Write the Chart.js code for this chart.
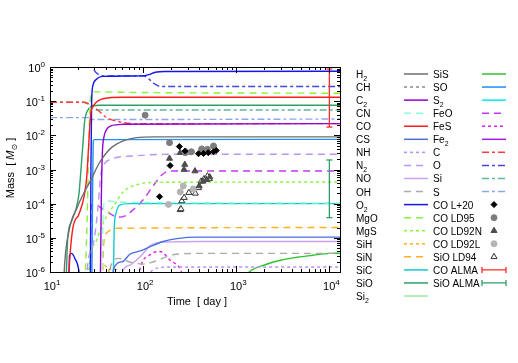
<!DOCTYPE html>
<html>
<head>
<meta charset="utf-8">
<script src="https://cdn.jsdelivr.net/npm/chart.js@4.4.1/dist/chart.umd.min.js"></script>
<style>
    html, body { margin: 0; padding: 0; background: #fff; }
    #wrap { width: 518px; height: 363px; }
</style>
</head>
<body>
<div id="wrap"><canvas id="massChart" width="518" height="363"></canvas></div>
<script>
// Molecule / atom masses [Msun] vs time [day], pairs of [t, M]
const H2 = [[13.8, 1e-7], [14.2, 1e-6], [16, 1.6e-5], [19.7, 8e-5], [23, 2e-4], [27.4, 4.9e-4], [33.6, 1.5e-3], [40, 3e-3], [46.7, 4.6e-3], [62, 7e-3], [85, 8.6e-3], [130, 9e-3], [13000, 9e-3]];
const CH = [[40, 1e-7], [42, 8e-7], [46, 1.3e-6], [55, 1e-6], [65, 6e-7], [75, 1e-7]];
const C2 = [[34.5, 1e-7], [35.5, 1e-4], [36.5, 3e-3], [38, 9e-3], [40, 0.014], [45, 0.019], [60, 0.021], [13000, 0.022]];
const CN = [[36, 1e-7], [37, 3e-5], [38, 1e-4], [40, 1.2e-4], [60, 1.1e-4], [13000, 1.05e-4]];
const CO = [[15.5, 1e-7], [16, 1e-6], [17.4, 1.6e-5], [20.5, 5e-5], [23.2, 1.6e-4], [24.8, 6e-4], [26, 5e-3], [27.4, 0.044], [29.7, 0.078], [38, 0.12], [60, 0.13], [13000, 0.13]];
const CS = [[46, 1e-7], [48, 1.2e-6], [60, 2e-6], [72, 3.3e-6], [95, 4.2e-6], [119, 5.5e-6], [164, 7.8e-6], [230, 9.5e-6], [400, 1.05e-5], [13000, 1.05e-5]];
const NH = [[90, 1e-7], [110, 6e-7], [130, 1.2e-6], [200, 1.4e-6], [13000, 1.4e-6]];
const N2 = [[24, 1e-7], [25, 1e-6], [30, 1e-5], [33, 1e-4], [35, 7e-4], [38, 1.4e-3], [45, 2e-3], [80, 2.5e-3], [200, 2.8e-3], [13000, 2.8e-3]];
const NO = [[55, 1e-7], [60, 1e-6], [72, 1.6e-6], [93, 2.8e-6], [120, 6e-6], [170, 7.5e-6], [400, 7.8e-6], [13000, 7.8e-6]];
const OH = [[40, 1e-7], [45, 1.5e-6], [55, 2.5e-6], [70, 2e-6], [100, 1.7e-6], [130, 2e-6], [210, 3.2e-6], [400, 3.5e-6], [13000, 3.5e-6]];
const O2 = [[15.8, 1e-7], [16.2, 3e-6], [17, 3.5e-6], [18.5, 2.5e-6], [20.5, 1e-6], [22, 1e-7], [27, 1e-7], [27.5, 1e-3], [28, 0.1], [29, 0.3], [32, 0.45], [37, 0.53], [100, 0.55], [115, 0.6], [135, 0.7], [170, 0.74], [13000, 0.75]];
const MgO = [[23, 1e-7], [24, 1e-6], [25, 3e-5], [26, 3e-3], [27, 0.1], [29, 0.19], [40, 0.185], [13000, 0.17]];
const MgS = [[25, 1e-7], [26, 1e-6], [31.7, 8.7e-6], [40, 4e-5], [50, 1e-4], [61, 2.2e-4], [93, 3.8e-4], [140, 4.2e-4], [13000, 4.3e-4]];
const SiH = [[34, 1e-7], [36, 8e-7], [38, 1.6e-6], [45, 8e-7], [60, 1e-7]];
const SiN = [[36, 1e-7], [37, 2e-6], [38, 8e-6], [42, 1.5e-5], [50, 1.9e-5], [13000, 2e-5]];
const SiC = [[47, 1e-7], [48, 1e-6], [49, 2e-5], [51, 5e-5], [56, 9e-5], [70, 1e-4], [13000, 1e-4]];
const SiO = [[14.5, 1e-7], [15, 1e-6], [15.5, 1e-5], [17, 3e-5], [19, 7e-5], [20.5, 2e-4], [21.5, 1e-3], [22.5, 5e-3], [23.5, 0.025], [25, 0.05], [28, 0.07], [35, 0.076], [13000, 0.076]];
const Si2 = [[10, 1e-8], [13000, 1e-8]];
const SiS = [[1250, 8e-7], [1476, 1.15e-6], [2000, 1.6e-6], [2970, 2.2e-6], [4500, 2.7e-6], [6700, 3.1e-6], [10000, 3.5e-6], [13000, 3.55e-6]];
const SO = [[28, 1e-7], [28.6, 1e-4], [29.2, 7e-3], [30, 7.5e-3], [13000, 7.6e-3]];
const S2 = [[10, 1e-8], [13000, 1e-8]];
const FeO = [[27, 1e-7], [27.6, 9e-5], [30, 9e-5], [33, 8.5e-5], [40, 6e-5], [55, 4e-5], [65, 4.5e-5], [80, 7e-5], [100, 1.3e-4], [130, 3.5e-4], [160, 7e-4], [190, 9e-4], [13000, 9e-4]];
const FeS = [[80, 1e-7], [93, 1.3e-6], [119, 3.2e-6], [152, 4e-6], [195, 2.2e-6], [259, 1e-6], [320, 1e-7]];
const Fe2 = [[10, 1e-8], [13000, 1e-8]];
const C = [[10, 0.093], [22.8, 0.093], [26, 0.085], [31.8, 0.058], [40.6, 0.033], [55, 0.025], [80, 0.022], [13000, 0.022]];
const O = [[10, 1.5], [26, 1.4], [28.4, 1.0], [31, 0.7], [36.4, 0.55], [100, 0.55], [115, 0.45], [130, 0.33], [155, 0.27], [13000, 0.27]];
const Si = [[10, 0.093], [22.8, 0.093], [26, 0.08], [31.8, 0.055], [40, 0.055], [13000, 0.055]];
const S = [[10, 0.033], [26, 0.033], [28, 0.029], [35, 0.029], [13000, 0.03]];

// Observations
const coL20 = [[150, 1.6e-4], [195, 1.3e-3], [245, 4.7e-3], [283, 3.5e-3], [393, 2.9e-3], [445, 2.95e-3], [500, 3.1e-3], [570, 3.3e-3], [610, 3.6e-3]];
const coLD95 = [[105, 0.039], [192, 6.1e-3], [283, 3.1e-3], [330, 3.3e-3], [425, 4.0e-3], [490, 3.9e-3], [570, 4.9e-3]];
const coLD92N = [[250, 3.1e-3], [192, 2.1e-3], [280, 1.4e-3], [275, 1.0e-3], [360, 9e-4], [400, 3.3e-4], [440, 4.5e-4], [480, 5e-4], [520, 6e-4]];
const coLD92L = [[187, 9.5e-5], [250, 2.2e-4], [270, 3.3e-4], [345, 2.7e-4]];
const sioLD94 = [[250, 6.6e-5], [255, 7e-5], [260, 1.2e-4], [276, 1.5e-4], [310, 2.1e-4], [363, 2e-4], [393, 2.9e-4], [420, 4.5e-4], [450, 5.3e-4], [490, 6.4e-4], [515, 5.3e-4]];
const coALMA = [[1e4, 0.87], [1e4, 0.0175]];
const sioALMA = [[1e4, 1.9e-3], [1e4, 3.9e-5]];

// Axis ticks
const xDecades = [1, 2, 3, 4];
const yDecades = [0, -1, -2, -3, -4, -5, -6];

const FONT = '"Liberation Sans", Arial, sans-serif';
const SOLID = [], LONG = [7, 5], SHORT = [3, 3], DASHDOT = [7, 3, 3, 3];

const toXY = arr => arr.map(([x, y]) => ({ x, y }));

const line = (label, data, color, dash) => ({
    label, data: toXY(data), borderColor: color, borderDash: dash,
    borderWidth: 1.4, pointRadius: 0, fill: false,
    cubicInterpolationMode: 'monotone', order: 1
});

const marks = (label, data, style, radius, fillColor, strokeColor) => ({
    label, data: toXY(data), showLine: false, pointStyle: style,
    pointRadius: radius, pointBackgroundColor: fillColor,
    pointBorderColor: strokeColor, pointBorderWidth: 1, borderColor: strokeColor, order: 0
});

const errBar = (label, data, color) => ({
    label, data: toXY(data), borderColor: color, borderWidth: 1.3,
    pointStyle: 'line', pointRadius: 3, pointBorderColor: color,
    pointBorderWidth: 1.3, isErr: true, order: 0
});

const datasets = [
    // left legend column
    line('H_2', H2, '#6e6e6e', SOLID),
    line('CH', CH, '#8c8c8c', SHORT),
    line('C_2', C2, '#9400d3', SOLID),
    line('CN', CN, '#8fffd8', LONG),
    line('CO', CO, '#ff1a1a', SOLID),
    line('CS', CS, '#4a6fe0', SOLID),
    line('NH', NH, '#b890f5', SHORT),
    line('N_2', N2, '#bb95f2', LONG),
    line('NO', NO, '#c9a4f2', SOLID),
    line('OH', OH, '#ababab', LONG),
    line('O_2', O2, '#1414ee', SOLID),
    line('MgO', MgO, '#86f53a', LONG),
    line('MgS', MgS, '#86f53a', SHORT),
    line('SiH', SiH, '#ffb020', SHORT),
    line('SiN', SiN, '#ffb020', LONG),
    line('SiC', SiC, '#12cdd0', SOLID),
    line('SiO', SiO, '#2e9e6a', SOLID),
    line('Si_2', Si2, '#98ee98', SOLID),
    // right legend column
    line('SiS', SiS, '#2ec42e', SOLID),
    line('SO', SO, '#1e8fff', SOLID),
    line('S_2', S2, '#00eaf0', SOLID),
    line('FeO', FeO, '#c536f5', LONG),
    line('FeS', FeS, '#e81ee8', SHORT),
    line('Fe_2', Fe2, '#a21ee6', SOLID),
    line('C', C, '#ff3b3b', DASHDOT),
    line('O', O, '#4545e6', DASHDOT),
    line('Si', Si, '#5cbb90', DASHDOT),
    line('S', S, '#8aa6f2', DASHDOT),
    marks('CO L+20', coL20, 'rectRot', 3, '#000', '#000'),
    marks('CO LD95', coLD95, 'circle', 3, '#7d7d7d', '#7d7d7d'),
    marks('CO LD92N', coLD92N, 'triangle', 3.5, '#4d4d4d', '#4d4d4d'),
    marks('CO LD92L', coLD92L, 'circle', 3, '#b4b4b4', '#b4b4b4'),
    marks('SiO LD94', sioLD94, 'triangle', 3.5, '#fff', '#333'),
    errBar('CO ALMA', coALMA, '#ff2a2a'),
    errBar('SiO ALMA', sioALMA, '#2e9e6a')
];

// Text with "_2" style subscript
const drawLabel = (ctx, text, x, y, size) => {
    const parts = text.split('_');
    ctx.font = `${size}px ${FONT}`;
    ctx.fillText(parts[0], x, y);
    if (parts[1]) {
        const w = ctx.measureText(parts[0]).width;
        ctx.font = `${size - 3}px ${FONT}`;
        ctx.fillText(parts[1], x + w, y + 3);
    }
};

// "10^n" labels
const drawPow = (ctx, exp, x, y, align) => {
    const base = '10', sup = String(exp);
    ctx.font = `11px ${FONT}`;
    const wb = ctx.measureText(base).width;
    ctx.font = `8px ${FONT}`;
    const ws = ctx.measureText(sup).width;
    const x0 = align === 'right' ? x - wb - ws : x - (wb + ws) / 2;
    ctx.textAlign = 'left';
    ctx.font = `11px ${FONT}`;
    ctx.fillText(base, x0, y);
    ctx.font = `8px ${FONT}`;
    ctx.fillText(sup, x0 + wb, y - 5);
};

const framePlugin = {
    id: 'framePlugin',
    afterDraw(chart) {
        const { ctx, chartArea: a, scales } = chart;
        const xs = scales.x, ys = scales.y;
        ctx.save();
        ctx.strokeStyle = '#000';
        ctx.fillStyle = '#000';
        ctx.lineWidth = 1;
        ctx.setLineDash([]);

        // ticks on all four sides, pointing inward
        ctx.beginPath();
        for (let d = 1; d <= 4; d++) {
            for (let m = 1; m <= 9; m++) {
                const v = m * Math.pow(10, d);
                if (v < xs.min || v > xs.max) continue;
                const px = Math.round(xs.getPixelForValue(v)) + 0.5;
                const len = m === 1 ? 6 : 3;
                ctx.moveTo(px, a.bottom); ctx.lineTo(px, a.bottom - len);
                ctx.moveTo(px, a.top); ctx.lineTo(px, a.top + len);
            }
        }
        for (let d = -6; d <= 0; d++) {
            for (let m = 1; m <= 9; m++) {
                const v = m * Math.pow(10, d);
                if (v < ys.min || v > ys.max) continue;
                const py = Math.round(ys.getPixelForValue(v)) + 0.5;
                const len = m === 1 ? 6 : 3;
                ctx.moveTo(a.left, py); ctx.lineTo(a.left + len, py);
                ctx.moveTo(a.right, py); ctx.lineTo(a.right - len, py);
            }
        }
        ctx.stroke();
        ctx.strokeRect(Math.round(a.left) + 0.5, Math.round(a.top) + 0.5,
            Math.round(a.right - a.left), Math.round(a.bottom - a.top));

        // tick labels
        ctx.textBaseline = 'alphabetic';
        xDecades.forEach(d => drawPow(ctx, d, xs.getPixelForValue(Math.pow(10, d)) + 2, a.bottom + 18, 'center'));
        yDecades.forEach(d => drawPow(ctx, d, a.left - 5, ys.getPixelForValue(Math.pow(10, d)) + 5, 'right'));

        // axis titles
        ctx.font = `11px ${FONT}`;
        ctx.textAlign = 'center';
        ctx.fillText('Time  [ day ]', (a.left + a.right) / 2 + 2, a.bottom + 33);

        ctx.save();
        ctx.translate(14, 168);
        ctx.rotate(-Math.PI / 2);
        ctx.textAlign = 'left';
        const p1 = 'Mass  [ ', p3 = ' ]';
        ctx.font = `11px ${FONT}`;
        const w1 = ctx.measureText(p1).width, w3 = ctx.measureText(p3).width;
        ctx.font = `italic 11px ${FONT}`;
        const w2 = ctx.measureText('M').width;
        ctx.font = `8px "DejaVu Sans", ${FONT}`;
        const wsun = ctx.measureText('\u2299').width;
        let x0 = -(w1 + w2 + wsun + w3) / 2;
        ctx.font = `11px ${FONT}`;
        ctx.fillText(p1, x0, 0); x0 += w1;
        ctx.font = `italic 11px ${FONT}`;
        ctx.fillText('M', x0, 0); x0 += w2;
        ctx.font = `8px "DejaVu Sans", ${FONT}`;
        ctx.fillText('\u2299', x0, 3); x0 += wsun;
        ctx.font = `11px ${FONT}`;
        ctx.fillText(p3, x0, 0);
        ctx.restore();

        // legend: two columns, label then sample
        const rowY = i => 74 + i * 13.06;
        ctx.textAlign = 'left';
        chart.data.datasets.forEach((ds, i) => {
            const col = i < 18 ? 0 : 1;
            const row = col ? i - 18 : i;
            const y = rowY(row);
            const lx = col ? 433 : 356;
            const sx1 = col ? 482 : 404, sx2 = col ? 506 : 428;
            ctx.fillStyle = '#000';
            drawLabel(ctx, ds.label, lx, y + 4, 10);
            if (ds.isErr) {
                ctx.strokeStyle = ds.borderColor;
                ctx.lineWidth = 1.3;
                ctx.setLineDash([]);
                ctx.beginPath();
                ctx.moveTo(sx1, y); ctx.lineTo(sx2, y);
                ctx.moveTo(sx1, y - 3); ctx.lineTo(sx1, y + 3);
                ctx.moveTo(sx2, y - 3); ctx.lineTo(sx2, y + 3);
                ctx.stroke();
            } else if (ds.showLine === false) {
                ctx.fillStyle = ds.pointBackgroundColor;
                ctx.strokeStyle = ds.pointBorderColor;
                ctx.lineWidth = 1;
                ctx.setLineDash([]);
                Chart.helpers.drawPoint(ctx, {
                    pointStyle: ds.pointStyle, radius: ds.pointRadius,
                    borderWidth: 1, rotation: 0
                }, (sx1 + sx2) / 2, y);
            } else {
                ctx.strokeStyle = ds.borderColor;
                ctx.lineWidth = 1.5;
                ctx.setLineDash(ds.borderDash);
                ctx.beginPath();
                ctx.moveTo(sx1, y); ctx.lineTo(sx2, y);
                ctx.stroke();
            }
        });
        ctx.restore();
    }
};

document.addEventListener('DOMContentLoaded', () => {
    const ctx = document.getElementById('massChart');
    new Chart(ctx, {
        type: 'line',
        data: { datasets },
        options: {
            responsive: false,
            animation: false,
            layout: { padding: { left: 50, top: 67, right: 178, bottom: 91 } },
            plugins: { legend: { display: false }, tooltip: { enabled: false } },
            scales: {
                x: { type: 'logarithmic', min: 10, max: 13000, display: false },
                y: { type: 'logarithmic', min: 1e-6, max: 1, display: false }
            }
        },
        plugins: [framePlugin]
    });
});
</script>
</body>
</html>
